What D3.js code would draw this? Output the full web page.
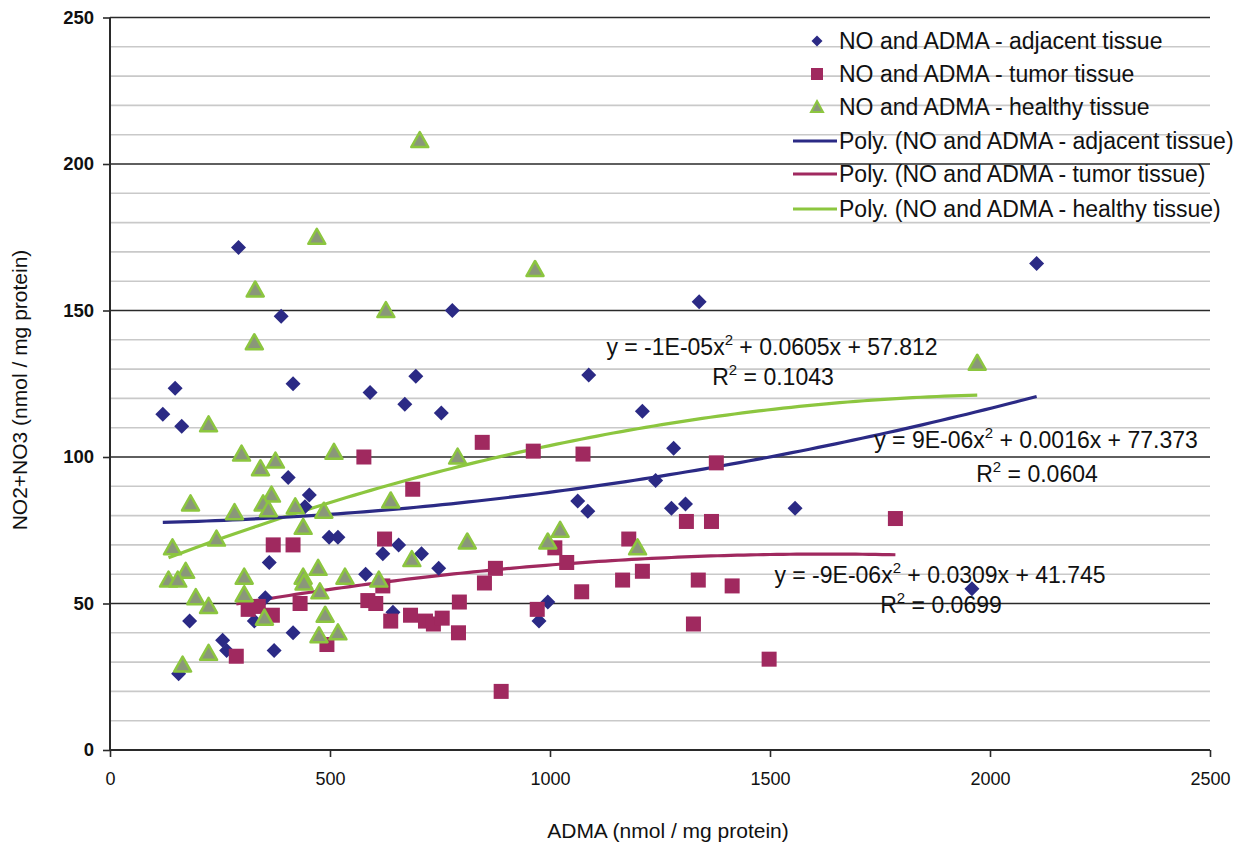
<!DOCTYPE html>
<html><head><meta charset="utf-8">
<script src="https://cdn.jsdelivr.net/npm/d3@7"></script>
<style>body{margin:0;background:#fff}svg{font-family:"Liberation Sans",Arial,sans-serif}</style>
</head><body><svg id="c" width="1247" height="854"></svg>
<script>
// ADMA (x) and NO2+NO3 (y) values per series
const adjacentX = [292,389,148,416,591,120,163,405,453,443,498,518,362,620,656,581,353,643,328,181,416,256,265,373,156,778,695,1088,670,753,1210,1281,1240,1063,1086,1276,708,747,995,975,1339,1308,1557,2106,1959];
const adjacentY = [171.5,148,123.5,125,122,114.6,110.5,93,87,83,72.6,72.6,64,67,70,60,52,47,44,44,40,37.5,34,34,26,150,127.6,128,118,115,115.6,103,92,85,81.5,82.5,67,62,50.5,44,153,84,82.5,166,55];
const tumorX = [577,371,416,624,620,314,337,432,586,604,369,638,493,287,846,962,1075,688,1011,1179,876,851,1038,1210,1165,1072,794,971,683,717,735,755,792,889,1378,1310,1367,1785,1337,1414,1326,1498];
const tumorY = [100,70,70,72,56,48,49,50,51,50,46,44,36,32,105,102,101,89,69,72,62,57,64,61,58,54,50.5,48,46,44,43,45,40,20,98,78,78,79,58,56,43,31];
const healthyX = [704,470,330,627,328,224,299,376,509,342,367,638,183,283,348,360,421,486,439,242,142,172,133,154,305,473,439,441,534,611,305,477,195,224,351,489,475,518,224,165,790,812,686,995,1023,1199,1971,966];
const healthyY = [208,175,157,150,139,111,101,98.6,101.6,96,87,85,84,81,84,82,83,81.5,76,72,69,61,58,58,59,62,59,57,59,58,53,54,52,49,45,46,39,40,33,29,100,71,65,71,75,69,132,164];
// polynomial trend coefficients [a (x^2), b (x), c]
const adjacentFit = [9e-6, 0.0016, 77.373];
const tumorFit = [-9.5e-6, 0.0309, 41.745];
const healthyFit = [-1.44e-5, 0.0605, 57.812];
const fitLabels = [
  {eq:["y = 9E-06x","2"," + 0.0016x + 77.373"], r2:"0.0604"},
  {eq:["y = -9E-06x","2"," + 0.0309x + 41.745"], r2:"0.0699"},
  {eq:["y = -1E-05x","2"," + 0.0605x + 57.812"], r2:"0.1043"}
];
const seriesNames = ["NO and ADMA - adjacent tissue","NO and ADMA - tumor tissue","NO and ADMA - healthy tissue"];
const xTicks = [0,500,1000,1500,2000,2500];
const yTicks = [0,50,100,150,200,250];

const svg = d3.select("#c");
const x = d3.scaleLinear().domain([0,2500]).range([110,1210]);
const y = d3.scaleLinear().domain([0,250]).range([750,17.5]);

const colors = {adj:"#2b2a85", tum:"#a0295f", hl:"#8cc63f", hlFill:"#8a977a"};

// grid
const g = svg.append("g");
g.selectAll("line.minor").data(d3.range(10,250,10).filter(v=>v%50!==0)).join("line")
  .attr("x1",110).attr("x2",1210).attr("y1",d=>y(d)).attr("y2",d=>y(d))
  .attr("stroke","#c9c9c9").attr("stroke-width",1.6);
g.selectAll("line.major").data(yTicks.filter(v=>v>0)).join("line")
  .attr("x1",110).attr("x2",1210).attr("y1",d=>y(d)).attr("y2",d=>y(d))
  .attr("stroke","#2a2a2a").attr("stroke-width",1.6);

// axes
const yAxis = svg.append("g").attr("transform","translate(110,0)")
  .call(d3.axisLeft(y).tickValues(yTicks).tickFormat(d3.format("d")).tickSize(7).tickPadding(9));
const xAxis = svg.append("g").attr("transform","translate(0,750)")
  .call(d3.axisBottom(x).tickValues(xTicks).tickFormat(d3.format("d")).tickSize(7).tickPadding(15));
[yAxis,xAxis].forEach(a=>{
  a.select(".domain").attr("stroke","#2a2a2a").attr("stroke-width",2);
  a.selectAll(".tick line").attr("stroke","#2a2a2a").attr("stroke-width",1.6);
  a.selectAll(".tick text").attr("font-size",18).attr("fill","#111").attr("font-family","Liberation Sans, Arial, sans-serif");
});
yAxis.selectAll(".tick text").attr("font-weight","bold").attr("font-size",18.5);
yAxis.select(".domain").attr("d","M0,17.5V750");
xAxis.select(".domain").attr("d","M110,0H1210");

svg.append("text").attr("x",668).attr("y",838).attr("text-anchor","middle")
  .attr("font-size",21).attr("fill","#111").text("ADMA (nmol / mg protein)");
svg.append("text").attr("transform","translate(27,390) rotate(-90)").attr("text-anchor","middle")
  .attr("font-size",21).attr("fill","#111").text("NO2+NO3 (nmol / mg protein)");

// trend lines
const line = d3.line().x(d=>x(d[0])).y(d=>y(d[1]));
function trend(xs, c){
  const lo=d3.min(xs), hi=d3.max(xs);
  return d3.range(0,101).map(i=>{const v=lo+(hi-lo)*i/100;return [v,c[0]*v*v+c[1]*v+c[2]];});
}
svg.append("path").attr("d",line(trend(healthyX,healthyFit))).attr("fill","none").attr("stroke",colors.hl).attr("stroke-width",3.2);
svg.append("path").attr("d",line(trend(adjacentX,adjacentFit))).attr("fill","none").attr("stroke",colors.adj).attr("stroke-width",3.2);
svg.append("path").attr("d",line(trend(tumorX,tumorFit))).attr("fill","none").attr("stroke",colors.tum).attr("stroke-width",3.2);

// markers
const diamond = "M0,-7.5L7.5,0L0,7.5L-7.5,0Z";
const tri = "M0,-8.5L8.5,6.5L-8.5,6.5Z";
svg.append("g").selectAll("path").data(adjacentX.map((v,i)=>[v,adjacentY[i]])).join("path")
  .attr("transform",d=>`translate(${x(d[0])},${y(d[1])})`).attr("d",diamond).attr("fill",colors.adj);
svg.append("g").selectAll("rect").data(tumorX.map((v,i)=>[v,tumorY[i]])).join("rect")
  .attr("x",d=>x(d[0])-7.5).attr("y",d=>y(d[1])-7.5).attr("width",15).attr("height",15).attr("fill",colors.tum);
svg.append("g").selectAll("path").data(healthyX.map((v,i)=>[v,healthyY[i]])).join("path")
  .attr("transform",d=>`translate(${x(d[0])},${y(d[1])})`).attr("d",tri)
  .attr("fill",colors.hlFill).attr("stroke",colors.hl).attr("stroke-width",2.5).attr("stroke-linejoin","round");

// equation labels
const labPos = [[1036,448,1037,482],[940,583,941,613],[772,355,773,385]];
fitLabels.forEach((f,i)=>{
  const p=labPos[i];
  const t=svg.append("text").attr("x",p[0]).attr("y",p[1]).attr("text-anchor","middle").attr("font-size",23).attr("fill","#111");
  t.append("tspan").text(f.eq[0]);
  t.append("tspan").attr("font-size",15).attr("dy",-10).text(f.eq[1]);
  t.append("tspan").attr("dy",10).text(f.eq[2]);
  const r=svg.append("text").attr("x",p[2]).attr("y",p[3]).attr("text-anchor","middle").attr("font-size",23).attr("fill","#111");
  r.append("tspan").text("R");
  r.append("tspan").attr("font-size",15).attr("dy",-10).text("2");
  r.append("tspan").attr("dy",10).text(" = "+f.r2);
});

// legend
const lg = svg.append("g");
const rows=[41,74,107,141,174,209];
const legendText = seriesNames.concat(seriesNames.map(s=>"Poly. ("+s+")"));
lg.append("path").attr("transform",`translate(817,${rows[0]})`).attr("d","M0,-5.5L5.5,0L0,5.5L-5.5,0Z").attr("fill",colors.adj);
lg.append("rect").attr("x",811).attr("y",rows[1]-6).attr("width",12).attr("height",12).attr("fill",colors.tum);
lg.append("path").attr("transform",`translate(817,${rows[2]})`).attr("d","M0,-6L6,5L-6,5Z").attr("fill",colors.hlFill).attr("stroke",colors.hl).attr("stroke-width",2);
[colors.adj,colors.tum,colors.hl].forEach((c,i)=>{
  lg.append("line").attr("x1",793).attr("x2",837).attr("y1",rows[3+i]).attr("y2",rows[3+i]).attr("stroke",c).attr("stroke-width",3);
});
legendText.forEach((s,i)=>{
  lg.append("text").attr("x",839).attr("y",rows[i]).attr("dy","0.36em").attr("font-size",23).attr("fill","#111").text(s);
});
</script></body></html>
